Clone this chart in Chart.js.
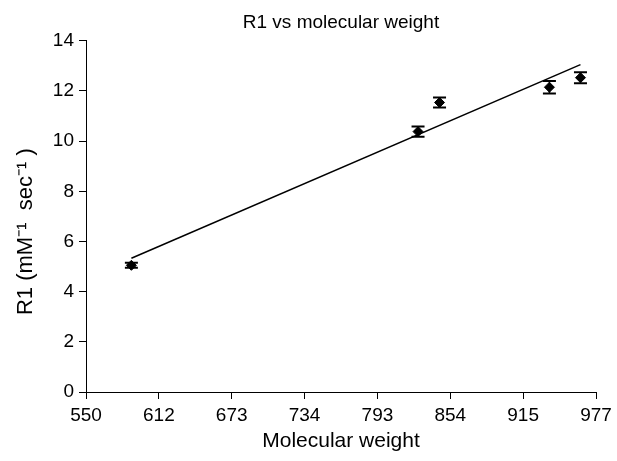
<!DOCTYPE html>
<html>
<head>
<meta charset="utf-8">
<script src="https://cdn.jsdelivr.net/npm/chart.js@4.4.1/dist/chart.umd.min.js"></script>
<style>
  html, body { margin: 0; padding: 0; background: #fff; }
  #wrap { width: 617px; height: 461px; }
</style>
</head>
<body>
<div id="wrap"><canvas id="r1Chart" width="617" height="461"></canvas></div>
<script>
// values
const molWeight = [588, 828, 846, 938, 964];
const r1Values = [5.05, 10.38, 11.54, 12.15, 12.53];
const r1Errors = [0.1, 0.2, 0.2, 0.25, 0.22];
const fitX = [588, 964];
const fitY = [5.33, 13.05];
const xTickLabels = ['550', '612', '673', '734', '793', '854', '915', '977'];

const FONT = "'Liberation Sans', Arial, sans-serif";

// draw vertical error bars with caps using the chart's own scales
const errorBars = {
    id: 'errorBars',
    afterDatasetsDraw(chart) {
        const ctx = chart.ctx;
        const yScale = chart.scales.y;
        const meta = chart.getDatasetMeta(0);
        ctx.save();
        ctx.strokeStyle = '#000';
        meta.data.forEach((pt, i) => {
            const top = yScale.getPixelForValue(r1Values[i] + r1Errors[i]);
            const bot = yScale.getPixelForValue(r1Values[i] - r1Errors[i]);
            ctx.lineWidth = 1.5;
            ctx.beginPath();
            ctx.moveTo(pt.x, top);
            ctx.lineTo(pt.x, bot);
            ctx.stroke();
            ctx.lineWidth = 2;
            ctx.beginPath();
            ctx.moveTo(pt.x - 6.5, top);
            ctx.lineTo(pt.x + 6.5, top);
            ctx.moveTo(pt.x - 6.5, bot);
            ctx.lineTo(pt.x + 6.5, bot);
            ctx.stroke();
        });
        ctx.restore();
    }
};

new Chart(document.getElementById('r1Chart'), {
    type: 'scatter',
    data: {
        datasets: [
            {
                label: 'R1',
                data: molWeight.map((x, i) => ({ x: x, y: r1Values[i] })),
                pointStyle: 'rectRot',
                pointRadius: 5,
                backgroundColor: '#000',
                borderColor: '#000',
                showLine: false
            },
            {
                label: 'Fit',
                type: 'line',
                data: fitX.map((x, i) => ({ x: x, y: fitY[i] })),
                borderColor: '#000',
                borderWidth: 1.5,
                pointRadius: 0,
                fill: false
            }
        ]
    },
    options: {
        responsive: false,
        animation: false,
        layout: { padding: { left: 0, right: 21, top: 0, bottom: 0 } },
        plugins: {
            legend: { display: false },
            tooltip: { enabled: false },
            title: {
                display: true,
                fullSize: false,
                text: 'R1 vs molecular weight',
                color: '#000',
                font: { family: FONT, size: 19, weight: 'normal' },
                padding: { top: 11, bottom: 7 }
            }
        },
        scales: {
            x: {
                type: 'linear',
                min: 550,
                max: 977,
                afterFit: (scale) => { scale.height = 69; },
                border: { display: true, color: '#000', width: 1 },
                grid: { drawOnChartArea: false, drawTicks: true, tickLength: 7, color: '#000' },
                ticks: {
                    stepSize: 61,
                    color: '#000',
                    padding: 5,
                    maxRotation: 0,
                    font: { family: FONT, size: 19 },
                    callback: (value, index) => xTickLabels[index]
                },
                title: {
                    display: true,
                    text: 'Molecular weight',
                    color: '#000',
                    font: { family: FONT, size: 21 },
                    padding: { top: 0, bottom: 7 }
                }
            },
            y: {
                min: 0,
                max: 14,
                afterFit: (scale) => { scale.width = 86; },
                border: { display: true, color: '#000', width: 1 },
                grid: { drawOnChartArea: false, drawTicks: true, tickLength: 7, color: '#000' },
                ticks: {
                    stepSize: 2,
                    color: '#000',
                    padding: 5,
                    font: { family: FONT, size: 19 }
                },
                title: {
                    display: true,
                    text: 'R1 (mM\u207B\u00B9  sec\u207B\u00B9 )     ',
                    color: '#000',
                    font: { family: FONT, size: 22 },
                    padding: { top: 13, bottom: 0 }
                }
            }
        }
    },
    plugins: [errorBars]
});
</script>
</body>
</html>
